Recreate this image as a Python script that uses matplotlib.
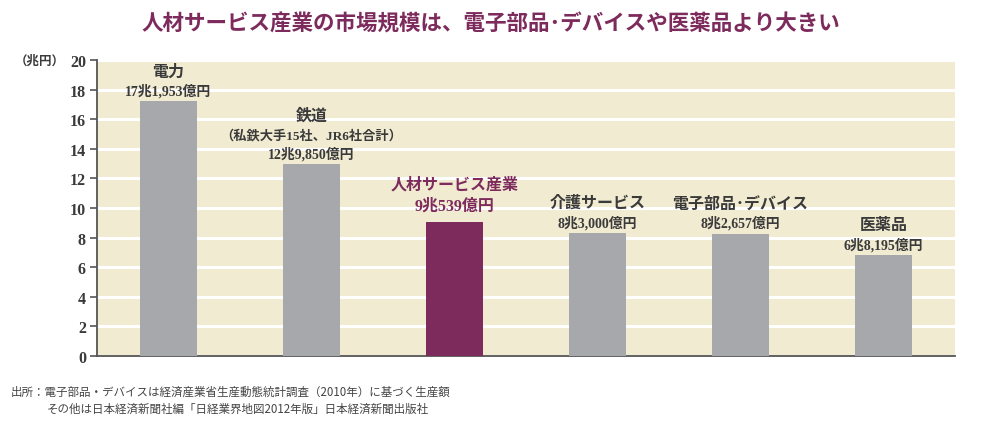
import matplotlib
matplotlib.use("Agg")
import matplotlib.pyplot as plt

categories = ["電力", "鉄道", "人材サービス産業", "介護サービス", "電子部品･デバイス", "医薬品"]
values = [17.1953, 12.985, 9.0539, 8.3, 8.2657, 6.8195]
value_labels = ["17兆1,953億円", "12兆9,850億円", "9兆539億円", "8兆3,000億円", "8兆2,657億円", "6兆8,195億円"]
sub_labels = ["", "（私鉄大手15社、JR6社合計）", "", "", "", ""]
highlight = 2
yticks = [0, 2, 4, 6, 8, 10, 12, 14, 16, 18, 20]
title = "人材サービス産業の市場規模は、電子部品･デバイスや医薬品より大きい"
notes = ["出所：電子部品・デバイスは経済産業省生産動態統計調査（2010年）に基づく生産額",
         "その他は日本経済新聞社編「日経業界地図2012年版」日本経済新聞出版社"]

PURPLE = "#7d2b5c"
GRAY = "#a7a8ab"
BG = "#f1ebd1"
TXT = "#3a3a3a"
FAM = ["Liberation Serif", "Noto Sans CJK JP"]

fig = plt.figure(figsize=(9.88, 4.31), dpi=100)
ax = fig.add_axes([0.0982, 0.1717, 0.8684, 0.6868])
ax.set_facecolor(BG)
x = list(range(len(categories)))
colors = [PURPLE if i == highlight else GRAY for i in x]
ax.bar(x, values, width=0.405, color=colors, zorder=3)
ax.set_xlim(-0.5, len(categories) - 0.5)
ax.set_ylim(0, 20)
ax.set_yticks(yticks)
ax.set_yticklabels([str(t) for t in yticks], fontfamily="Liberation Serif",
                   fontweight="bold", fontsize=11.5, color=TXT)
ax.set_xticks([])
ax.grid(axis="y", color="white", linewidth=2.2, zorder=1)
ax.set_axisbelow(True)
for s in ["top", "right"]:
    ax.spines[s].set_visible(False)
for s in ["left", "bottom"]:
    ax.spines[s].set_color("#555555")
    ax.spines[s].set_linewidth(1.3)
ax.tick_params(axis="y", length=5, width=1.2, color="#555555", pad=3)

for i, (v, vl, sl, c) in enumerate(zip(values, value_labels, sub_labels, categories)):
    hl = i == highlight
    col = PURPLE if hl else TXT
    if hl:
        ax.annotate(vl, (i, v), xytext=(0, 16), textcoords="offset pixels", ha="center", va="center",
                    fontsize=11.5, fontweight="bold", color=col, family=FAM)
        ax.annotate(c, (i, v), xytext=(0, 37), textcoords="offset pixels", ha="center", va="center",
                    fontsize=11.5, fontweight="bold", color=col, family=FAM)
        continue
    ax.annotate(vl, (i, v), xytext=(0, 11), textcoords="offset pixels", ha="center", va="center",
                fontsize=10, fontweight="bold", color=col, family=FAM)
    off = 30
    if sl:
        ax.annotate(sl, (i, v), xytext=(0, 29), textcoords="offset pixels", ha="center", va="center",
                    fontsize=9.5, fontweight="bold", color=col, family=FAM)
        off = 48
    ax.annotate(c, (i, v), xytext=(0, off), textcoords="offset pixels", ha="center", va="center",
                fontsize=11.5, fontweight="bold", color=col, family=FAM)

fig.text(0.066, 0.858, "（兆円）", ha="right", va="center", fontsize=9, fontweight="bold",
         color=TXT, family=FAM)
fig.text(0.497, 0.942, title, ha="center", va="center", fontsize=15.5, fontweight="bold",
         color=PURPLE, family=FAM)
fig.text(0.011, 0.090, notes[0], ha="left", va="center", fontsize=8.3, color="#444444",
         family=["Noto Sans CJK JP"])
fig.text(0.047, 0.050, notes[1], ha="left", va="center", fontsize=8.3, color="#444444",
         family=["Noto Sans CJK JP"])

fig.savefig("out.png", dpi=100)
